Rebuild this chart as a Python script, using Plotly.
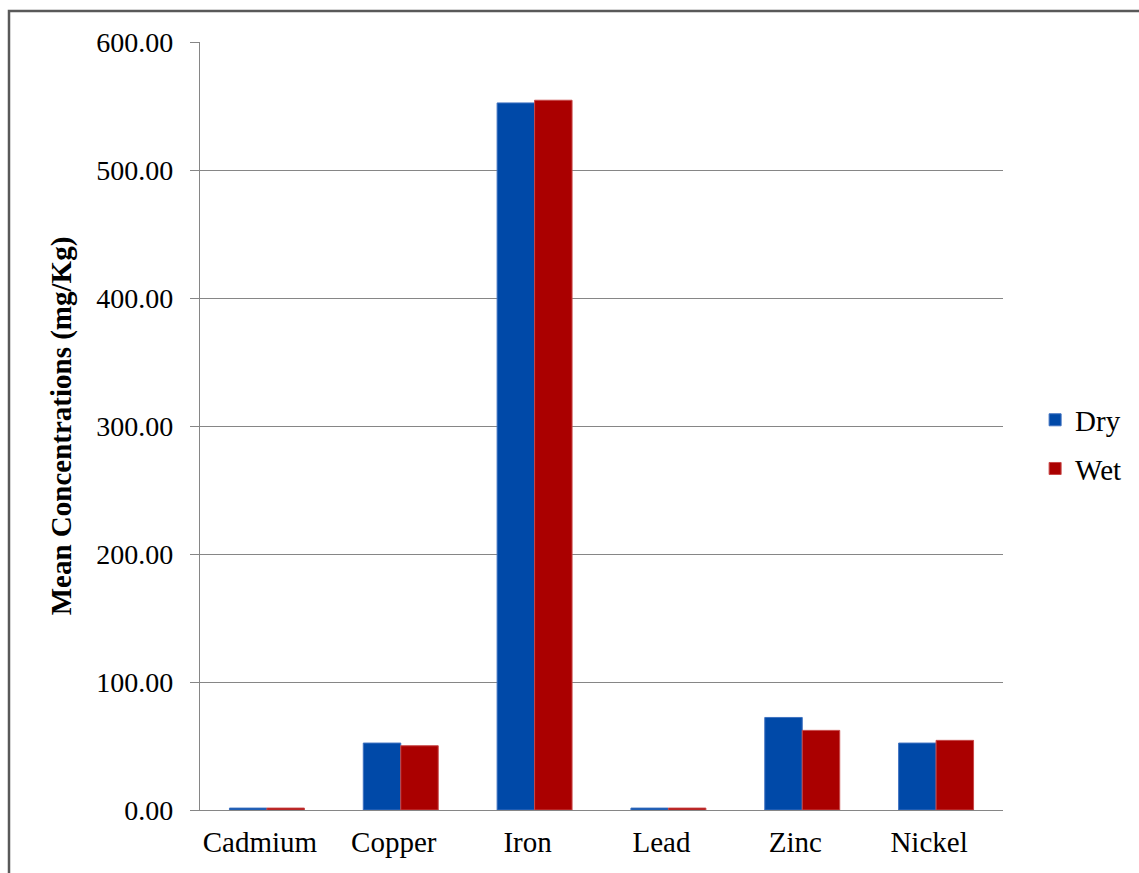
import plotly.graph_objects as go

# Mean metal concentrations per season
metals = ["Cadmium", "Copper", "Iron", "Lead", "Zinc", "Nickel"]
dry = [1.5, 52.3, 552.4, 1.5, 72.3, 52.3]
wet = [1.5, 50.2, 554.5, 1.5, 62.2, 54.4]
y_ticks = [0, 100, 200, 300, 400, 500, 600]

W, H = 1139, 873
L, R, T, B = 200, 136, 42, 63
pw, ph = W - L - R, H - T - B

def px_to_paper(x, y):
    return (x - L) / pw, (H - B - y) / ph

serif = "Liberation Serif, Times New Roman, serif"
grid = "#868686"

fig = go.Figure()
fig.add_trace(go.Bar(name="Dry", x=metals, y=dry, legendgroup="dry",
                     marker=dict(color="#0049A8", line=dict(width=1, color="#3F72C0"))))
fig.add_trace(go.Bar(name="Wet", x=metals, y=wet, legendgroup="wet",
                     marker=dict(color="#AA0000", line=dict(width=1, color="#C84848"))))

# outer frame (top and left edges visible)
x0, y0 = px_to_paper(9, 11)
x1, y1 = px_to_paper(W + 10, H + 10)
fig.add_shape(type="rect", xref="paper", yref="paper", x0=x0, y0=y1, x1=x1, y1=y0,
              line=dict(color="#595959", width=2.5), layer="below")

fig.update_layout(
    width=W, height=H,
    margin=dict(l=L, r=R, t=T, b=B),
    paper_bgcolor="white", plot_bgcolor="white",
    barmode="group", bargap=0.44, bargroupgap=0,
    font=dict(family=serif, color="black"),
    showlegend=True,
    legend=dict(x=1.04, y=0.476, xanchor="left", yanchor="middle",
                traceorder="grouped", tracegroupgap=8,
                font=dict(size=29, family=serif), itemwidth=30),
    xaxis=dict(showgrid=False, showline=True, linecolor=grid, linewidth=1.3,
               ticks="", tickfont=dict(size=29, family=serif),
               ticklabelstandoff=6, ticklabelshift=-7),
    yaxis=dict(range=[0, 600], tickvals=y_ticks, tickformat=".2f",
               showgrid=True, gridcolor=grid, gridwidth=1.2,
               showline=True, linecolor=grid, linewidth=1.3,
               ticks="outside", ticklen=9, tickcolor=grid, tickwidth=1.2,
               zeroline=False,
               tickfont=dict(size=28, family=serif), ticklabelstandoff=11,
               title=dict(text="<b>Mean Concentrations (mg/Kg)</b>",
                          font=dict(size=29, family=serif), standoff=16)),
)

fig.write_html("out.html")
